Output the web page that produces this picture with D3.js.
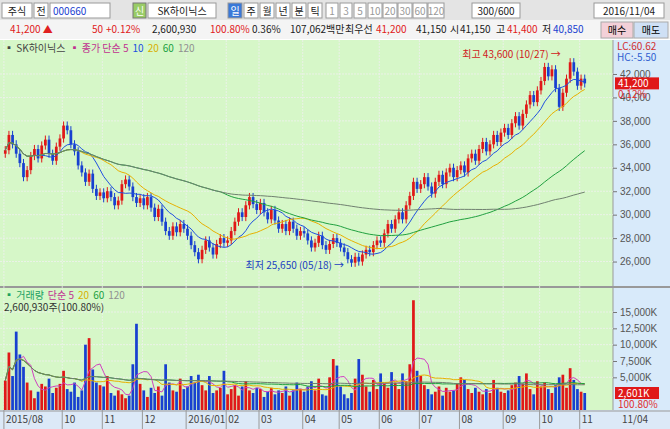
<!DOCTYPE html>
<html><head><meta charset="utf-8">
<script src="https://cdn.jsdelivr.net/npm/d3@7"></script>
<style>body{margin:0;background:#fff}svg{display:block;font-family:"Noto Sans CJK KR","DejaVu Sans",sans-serif}</style>
</head><body><svg id="c" width="670" height="429"></svg>
<script>
// daily-ish closes (thousand won)
const closes = [35.5,36.8,36.0,35.2,34.4,33.2,33.8,35.0,35.6,34.8,35.9,36.4,35.2,34.6,35.8,36.5,
 37.6,37.2,36.0,35.4,34.2,33.6,32.8,33.5,32.2,31.6,31.9,
 31.4,32.0,31.5,30.8,31.2,32.6,33.0,32.4,31.5,31.0,31.4,
 30.8,31.5,30.6,29.8,30.5,29.4,28.6,28.2,29.0,28.5,29.2,28.8,
 28.2,27.4,26.8,26.2,27.0,27.8,27.2,26.6,27.5,28.0,27.6,
 27.8,28.6,29.4,30.2,29.8,30.8,31.5,30.9,30.4,
 31.0,30.2,29.6,30.4,29.5,28.8,29.2,28.6,29.4,28.8,28.2,28.6,
 28.4,27.8,27.2,27.6,28.2,27.4,27.0,27.5,28.0,27.6,
 27.2,26.8,26.2,25.9,26.4,26.0,26.6,27.0,26.8,27.4,27.8,
 27.6,28.4,29.2,28.8,29.6,30.2,29.6,30.8,31.6,32.8,32.2,
 32.6,33.2,32.4,31.8,32.8,33.4,32.6,33.6,34.0,33.2,33.8,
 34.2,33.6,34.8,35.2,34.6,35.6,36.2,35.4,36.0,36.8,36.2,37.0,
 37.4,36.8,37.8,38.4,37.6,38.6,39.4,40.2,39.6,40.6,
 41.4,42.6,41.8,42.4,40.8,39.2,40.4,41.6,43.0,42.2,41.0,
 41.6,41.2];
const volumes = [4.5,8.8,5.2,12.0,8.5,6.6,4.2,3.0,1.8,2.8,4.0,3.6,4.8,2.6,3.4,4.0,
 6.0,3.2,2.8,4.2,2.0,3.0,10.0,11.0,6.2,4.2,3.8,
 3.6,5.2,2.6,2.2,3.0,2.4,1.8,2.2,7.0,13.2,4.0,
 3.0,2.0,3.4,2.6,3.6,2.2,7.0,4.2,3.0,2.8,4.8,3.2,
 3.6,5.2,4.2,5.4,3.8,3.0,5.2,2.6,3.0,3.4,6.0,
 2.4,3.2,3.8,2.2,3.6,4.4,3.0,2.6,3.4,
 3.2,2.0,2.8,3.4,2.4,3.0,2.6,3.6,2.2,3.0,4.2,3.2,
 2.8,3.6,4.4,3.0,4.8,2.4,2.2,5.0,7.8,6.8,
 3.6,2.4,1.8,2.6,4.8,7.8,5.4,3.6,2.8,4.6,3.2,
 5.6,4.0,3.4,5.8,4.2,3.2,5.6,4.4,7.0,16.8,6.0,
 5.2,3.8,3.2,2.4,2.8,3.6,2.2,3.4,2.8,3.0,4.0,
 5.0,4.6,3.2,2.6,3.4,2.8,2.4,3.2,2.6,4.6,3.4,2.8,
 2.6,3.0,3.8,4.2,5.2,4.0,5.6,3.2,2.4,4.4,
 3.6,4.2,3.2,2.6,3.8,5.0,5.4,3.4,6.4,4.6,3.2,
 2.8,2.6];
const monthStarts = [0,16,27,38,50,61,70,82,92,103,114,125,137,147,158];
const monthLabels = ["2015/08","10","11","12","2016/01","02","03","04","05","06","07","08","09","10","11"];
const priceTicks = [26,28,30,32,34,36,38,40,42];
const volTicks = [5,7.5,10,12.5,15];
const maWindows = [5,10,20,60,120];
const maColors = ["#d040c0","#2050e0","#e8b000","#20a040","#708070"];

const svg = d3.select("#c");
const L = 3, R = 613, AX = 670;
const pTop = 40, pBot = 285, vTop = 289, vBot = 410;

// toolbars
svg.append("rect").attr("width",670).attr("height",20).attr("fill","#e4e4e4");
svg.append("rect").attr("y",20).attr("width",670).attr("height",19).attr("fill","#f4f4f4");
const tb = [["주식",2,30],["전",34,14],["000660",50,60],["SK하이닉스",148,68],["일",228,14],["주",244,14],["월",260,14],["년",276,14],["분",292,14],["틱",308,14],
 ["1",326,12],["3",340,12],["5",354,12],["10",368,14],["20",383,14],["30",398,14],["60",413,14],["120",428,16],["300/600",472,48],["2016/11/04",594,70]];
tb.forEach(([t,x,w]) => {
  const hi = t==="일", sel = t==="000660";
  svg.append("rect").attr("x",x).attr("y",3).attr("width",w).attr("height",15)
    .attr("fill",hi?"#3a78d8":"#fff").attr("stroke","#999");
  svg.append("text").attr("x",x+(sel?3:w/2)).attr("y",14.5).attr("text-anchor",sel?"start":"middle")
    .attr("font-size",10).attr("fill",hi?"#fff":(sel?"#2040d0":(/^\d/.test(t)&&x>320&&x<450?"#999":"#222"))).text(t);
});
svg.append("rect").attr("x",133).attr("y",3).attr("width",13).attr("height",15).attr("fill","#9c6").attr("stroke","#777");
svg.append("text").attr("x",139.5).attr("y",14.5).attr("text-anchor","middle").attr("font-size",10).attr("fill","#fff").text("신");
const row2 = [["41,200 ▲",10,"#e02020"],["50",92,"#e02020"],["+0.12%",106,"#e02020"],["2,600,930",152,"#222"],["100.80%",210,"#e02020"],
 ["0.36%",252,"#222"],["107,062백만",290,"#222"],["최우선",345,"#222"],["41,200",376,"#e02020"],["41,150",416,"#222"],["시",450,"#222"],["41,150",460,"#222"],
 ["고",496,"#222"],["41,400",507,"#e02020"],["저",542,"#222"],["40,850",553,"#2040d0"]];
row2.forEach(([t,x,c]) => svg.append("text").attr("x",x).attr("y",33).attr("font-size",10).attr("fill",c).text(t));
svg.append("rect").attr("x",601).attr("y",22).attr("width",32).attr("height",16).attr("fill","#f3d0d8").attr("stroke","#aaa");
svg.append("rect").attr("x",634).attr("y",22).attr("width",34).attr("height",16).attr("fill","#cfe0f5").attr("stroke","#aaa");
svg.append("text").attr("x",617).attr("y",34).attr("text-anchor","middle").attr("font-size",10).text("매수");
svg.append("text").attr("x",651).attr("y",34).attr("text-anchor","middle").attr("font-size",10).text("매도");

// panels
svg.append("rect").attr("x",0).attr("y",pTop).attr("width",R).attr("height",vBot-pTop).attr("fill","#d6f7c8");
svg.append("rect").attr("x",R).attr("y",pTop).attr("width",AX-R).attr("height",vBot-pTop).attr("fill","#d8eafa");
svg.append("rect").attr("x",0).attr("y",vBot).attr("width",670).attr("height",429-vBot).attr("fill","#dce9f7");
svg.append("line").attr("x1",0).attr("x2",670).attr("y1",287).attr("y2",287).attr("stroke","#999").attr("stroke-width",2);
svg.append("line").attr("x1",R).attr("x2",R).attr("y1",pTop).attr("y2",vBot).attr("stroke","#999");
svg.append("line").attr("x1",0).attr("x2",670).attr("y1",vBot+1).attr("y2",vBot+1).attr("stroke","#999");

const x = d3.scaleBand().domain(d3.range(closes.length)).range([L,L+160*3.65]).padding(0.25);
const y = d3.scaleLinear().domain([24.0,44.9]).range([pBot,pTop]);
const yv = d3.scaleLinear().domain([0,15]).range([vBot,312]);

// grid
const g = svg.append("g").attr("stroke","#f0f0f0").attr("stroke-width",0.8).attr("stroke-dasharray","2,1");
priceTicks.forEach(p => g.append("line").attr("x1",0).attr("x2",R).attr("y1",y(p)).attr("y2",y(p)));
volTicks.forEach(v => g.append("line").attr("x1",0).attr("x2",R).attr("y1",yv(v)).attr("y2",yv(v)));
monthStarts.forEach(i => g.append("line").attr("x1",x(i)).attr("x2",x(i)).attr("y1",pTop).attr("y2",vBot));

// axes
const pa = svg.append("g").attr("transform",`translate(${R},0)`)
  .call(d3.axisRight(y).tickValues(priceTicks).tickSize(4).tickFormat(d => d3.format(",")(d*1000)));
const va = svg.append("g").attr("transform",`translate(${R},0)`)
  .call(d3.axisRight(yv).tickValues(volTicks).tickSize(4).tickFormat(d => d3.format(",")(d*1000)+"K"));
[pa,va].forEach(a => {a.select(".domain").remove(); a.selectAll("text").attr("font-size",10).attr("fill","#555");a.selectAll("line").attr("stroke","#777");});
monthLabels.forEach((t,k) => {
  const xx = x(monthStarts[k]);
  svg.append("line").attr("x1",xx).attr("x2",xx).attr("y1",vBot).attr("y2",429).attr("stroke","#999");
  svg.append("text").attr("x",xx+2).attr("y",423).attr("font-size",10).attr("fill","#444").text(t);
});
svg.append("text").attr("x",622).attr("y",423).attr("font-size",10).attr("fill","#444").text("11/04");

// candles
const opens = closes.map((c,i) => i ? closes[i-1] : c - 0.3);
const plot = svg.append("g");
closes.forEach((c,i) => {
  const o = opens[i], up = c >= o, col = up ? "#e01818" : "#1840d0";
  const cx = x(i) + x.bandwidth()/2;
  plot.append("line").attr("x1",cx).attr("x2",cx).attr("y1",y(Math.max(o,c)+0.35)).attr("y2",y(Math.min(o,c)-0.35)).attr("stroke",col);
  plot.append("rect").attr("x",x(i)).attr("width",x.bandwidth()).attr("y",y(Math.max(o,c))).attr("height",Math.max(1,y(Math.min(o,c))-y(Math.max(o,c)))).attr("fill",col);
  plot.append("rect").attr("x",x(i)).attr("width",x.bandwidth()).attr("y",yv(volumes[i])).attr("height",vBot-yv(volumes[i])).attr("fill",col);
});

// moving averages (price & volume)
const ma = (arr,n) => arr.map((_,i) => d3.mean(arr.slice(Math.max(0,i-n+1),i+1)));
maWindows.forEach((n,k) => {
  if (n === 5) return;
  const m = ma(closes,n);
  plot.append("path").attr("fill","none").attr("stroke",maColors[k]).attr("stroke-width",1)
    .attr("d",d3.line().x((d,i)=>x(i)+x.bandwidth()/2).y(d=>y(d))(m));
});
[0,2,3,4].forEach(k => {
  const m = ma(volumes,maWindows[k]);
  plot.append("path").attr("fill","none").attr("stroke",maColors[k]).attr("stroke-width",1)
    .attr("d",d3.line().x((d,i)=>x(i)+x.bandwidth()/2).y(d=>yv(d))(m));
});

// legends
const lg = (items,yy) => { let xx = 4;
  items.forEach(([t,c]) => { const el = svg.append("text").attr("x",xx).attr("y",yy).attr("font-size",10).attr("fill",c).text(t); xx += el.node().getComputedTextLength()+4; }); };
lg([["▪ SK하이닉스","#444"],["▪ 종가 단순 5","#c03090"],["10","#2050e0"],["20","#d8b000"],["60","#20a040"],["120","#909090"]],52);
lg([["▪ 거래량","#20a060"],["단순 5","#c03090"],["20","#d8b000"],["60","#20a040"],["120","#909090"]],299);
svg.append("text").attr("x",4).attr("y",311).attr("font-size",10).attr("fill","#333").text("2,600,930주(100.80%)");
svg.append("text").attr("x",617).attr("y",50).attr("font-size",10).attr("fill","#d03030").text("LC:60.62");
svg.append("text").attr("x",617).attr("y",61).attr("font-size",10).attr("fill","#3060d0").text("HC:-5.50");

// last price badges
svg.append("rect").attr("x",615).attr("y",y(41.2)-6).attr("width",44).attr("height",12).attr("fill","#e01818");
svg.append("text").attr("x",618).attr("y",y(41.2)+4).attr("font-size",10).attr("fill","#fff").text("41,200");
svg.append("text").attr("x",618).attr("y",y(41.2)+15).attr("font-size",10).attr("fill","#e03030").text("0.12%");
svg.append("rect").attr("x",615).attr("y",yv(2.6)-6).attr("width",44).attr("height",12).attr("fill","#e01818");
svg.append("text").attr("x",618).attr("y",yv(2.6)+4).attr("font-size",10).attr("fill","#fff").text("2,601K");
svg.append("text").attr("x",618).attr("y",yv(2.6)+15).attr("font-size",10).attr("fill","#e03030").text("100.80%");

// high / low notes
const hi = d3.maxIndex(closes), lo = d3.minIndex(closes);
svg.append("text").attr("x",x(hi)-8).attr("y",y(43.6)+3).attr("text-anchor","end").attr("font-size",10).attr("fill","#d02020").text("최고 43,600 (10/27) →");
svg.append("text").attr("x",x(lo)-6).attr("y",y(25.65)+3).attr("text-anchor","end").attr("font-size",10).attr("fill","#2040c0").text("최저 25,650 (05/18) →");
</script></body></html>
